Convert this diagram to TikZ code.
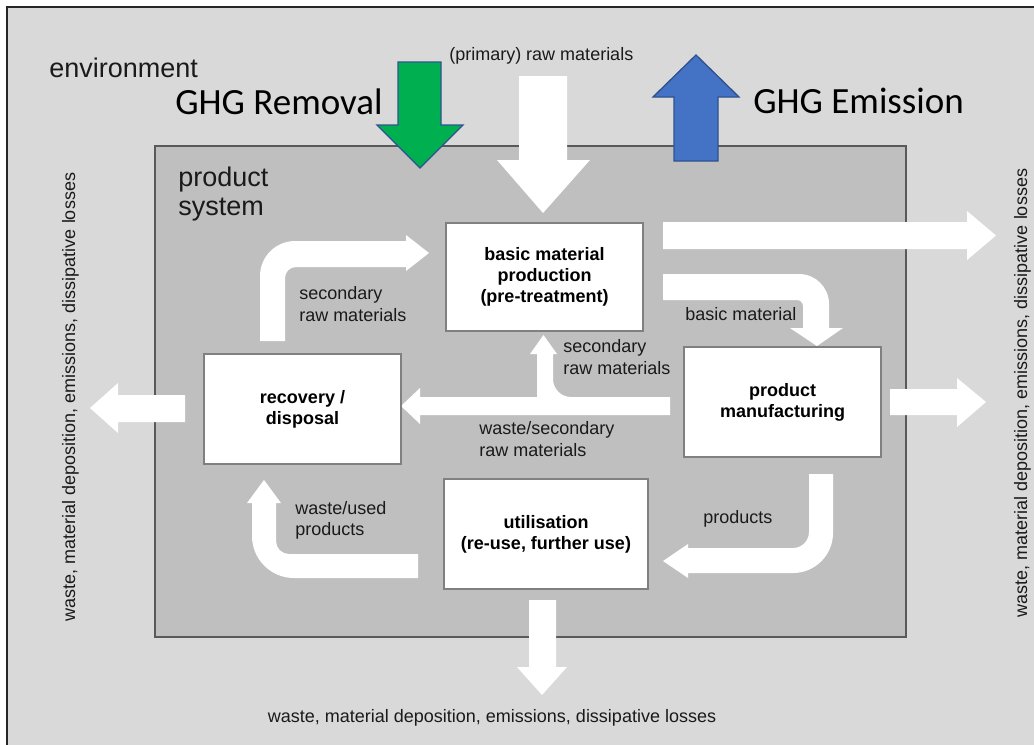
\documentclass[tikz,border=0pt]{standalone}
\usepackage{fontspec}
\setmainfont{Liberation Sans}
\newfontfamily\calibri{Carlito}
\definecolor{envbg}{HTML}{D9D9D9}
\definecolor{sysbg}{HTML}{BFBFBF}
\definecolor{sysline}{HTML}{595959}
\definecolor{boxline}{HTML}{808080}
\definecolor{ghggreen}{HTML}{00B050}
\definecolor{ghgblue}{HTML}{4472C4}
\definecolor{ghgline}{HTML}{2F528F}
\definecolor{txt}{HTML}{1A1A1A}
\tikzset{
  procbox/.style={draw=boxline, line width=1.8pt, fill=white, inner sep=0pt,
    font=\bfseries\fontsize{13.5pt}{15.75pt}\selectfont, align=center, text=black},
  flow/.style={fill=white, draw=none},
  ghgarrow/.style={draw=ghgline, line width=1pt, line join=miter},
  lbl/.style={inner sep=0pt, font=\fontsize{13.5pt}{16pt}\selectfont, align=left, text=txt},
  biglbl/.style={inner sep=0pt, font=\fontsize{20.25pt}{21.75pt}\selectfont, align=left, text=txt},
  ghglbl/.style={inner sep=0pt, font=\calibri\fontsize{27.75pt}{30pt}\selectfont, text=black},
}
\begin{document}
\begin{tikzpicture}[x=0.75pt,y=-0.75pt]
\useasboundingbox (0,0) rectangle (1034,744);
\fill[white] (0,0) rectangle (1034,744);
\begin{scope}
  \clip (0,0) rectangle (1034,744);
  \draw[fill=envbg, draw=black!85, line width=1.8pt] (7,7) rectangle (1045,760);
\end{scope}
% product system
\draw[fill=sysbg, draw=sysline, line width=1.6pt] (155,146) rectangle (906,637);

% GHG arrows
\draw[ghgarrow, fill=ghggreen] (398,62) -- (441,62) -- (441,125) -- (463,125) -- (420,168) -- (377,125) -- (398,125) -- cycle;
\draw[ghgarrow, fill=ghgblue] (674,161) -- (718,161) -- (718,97) -- (739,97) -- (696,55) -- (653,97) -- (674,97) -- cycle;

% straight white arrows
\fill[flow] (519,76) -- (567,76) -- (567,160) -- (590,160) -- (543,213) -- (497,160) -- (519,160) -- cycle;
\fill[flow] (663,222) -- (967,222) -- (967,211) -- (996,235.5) -- (967,260) -- (967,249) -- (663,249) -- cycle;
\fill[flow] (890,389) -- (957,389) -- (957,378) -- (986,402) -- (957,427) -- (957,415) -- (890,415) -- cycle;
\fill[flow] (185,395) -- (118,395) -- (118,383) -- (90,408) -- (118,433) -- (118,422) -- (185,422) -- cycle;
\fill[flow] (529,600) -- (556,600) -- (556,667) -- (567,667) -- (542,695) -- (517,667) -- (529,667) -- cycle;

% bent arrows
% recovery -> basic material production
\fill[flow] (260,341) -- (260,276) .. controls (260,256.7) and (275.7,241) .. (295,241)
  -- (406,241) -- (406,235) -- (429,253) -- (406,271) -- (406,267) -- (296,267)
  .. controls (289.9,267) and (285,271.9) .. (285,278) -- (285,341) -- cycle;
% basic material production -> product manufacturing
\fill[flow] (663,274) -- (799,274) .. controls (815.6,274) and (829,287.4) .. (829,304)
  -- (829,328) -- (843,328) -- (817,346) -- (790,328) -- (803,328) -- (803,306)
  .. controls (803,302.7) and (800.3,300) .. (797,300) -- (663,300) -- cycle;
% product manufacturing -> recovery, branch to basic material production
\fill[flow] (670,397) -- (571,397) .. controls (561.1,397) and (553,388.9) .. (553,379)
  -- (553,354) -- (557,354) -- (543.5,335) -- (530,354) -- (537,354) -- (537,397)
  -- (420,397) -- (420,388) -- (401,406) -- (420,424) -- (420,415) -- (670,415) -- cycle;
% product manufacturing -> utilisation
\fill[flow] (809,474) -- (833,474) -- (833,533) .. controls (833,555.1) and (815.1,573) .. (793,573)
  -- (688,573) -- (688,578) -- (663,561) -- (688,544) -- (688,548) -- (793,548)
  .. controls (801.8,548) and (809,540.8) .. (809,532) -- cycle;
% utilisation -> recovery
\fill[flow] (418,554) -- (289,554) .. controls (281.8,554) and (276,548.2) .. (276,541)
  -- (276,503) -- (281,503) -- (264,480) -- (247,503) -- (252,503) -- (252,536)
  .. controls (252,559.2) and (270.8,578) .. (294,578) -- (418,578) -- cycle;

% process boxes
\node[procbox, minimum width=147.75pt, minimum height=81pt] (bmp) at (544.5,277) {basic material\\production\\(pre-treatment)};
\node[procbox, minimum width=147.75pt, minimum height=82.5pt] (rec) at (302.5,409) {recovery /\\disposal};
\node[procbox, minimum width=147.75pt, minimum height=82.5pt] (man) at (782.5,402) {product\\manufacturing};
\node[procbox, minimum width=153pt, minimum height=82.5pt] (use) at (546,534) {utilisation\\(re-use, further use)};

% labels
\node[lbl, anchor=west] (l1) at (299,304) {secondary\\raw materials};
\node[lbl, anchor=base west] (l2) at (685,320) {basic material};
\node[lbl, anchor=west] (l3) at (563,357) {secondary\\raw materials};
\node[lbl, anchor=west] (l4) at (479,439) {waste/secondary\\raw materials};
\node[lbl, anchor=west] (l5) at (295,520.5) {waste/used\\products};
\node[lbl, anchor=base west] (l6) at (703,523) {products};
\node[lbl, anchor=base west] (prim) at (449,60) {(primary) raw materials};
\node[lbl, anchor=base] (bot) at (492,722) {waste, material deposition, emissions, dissipative losses};
\node[lbl, anchor=base, rotate=90] (lside) at (75,397) {waste, material deposition, emissions, dissipative losses};
\node[lbl, anchor=base, rotate=90] (rside) at (1027,393) {waste, material deposition, emissions, dissipative losses};
\node[biglbl, anchor=base west] (env) at (49,77) {environment};
\node[biglbl, anchor=west] (ps) at (178,193.6) {product\\system};
\node[ghglbl, anchor=base west] (rem) at (175,114) {GHG Removal};
\node[ghglbl, anchor=base west] (emi) at (753,113) {GHG Emission};
\end{tikzpicture}
\end{document}
